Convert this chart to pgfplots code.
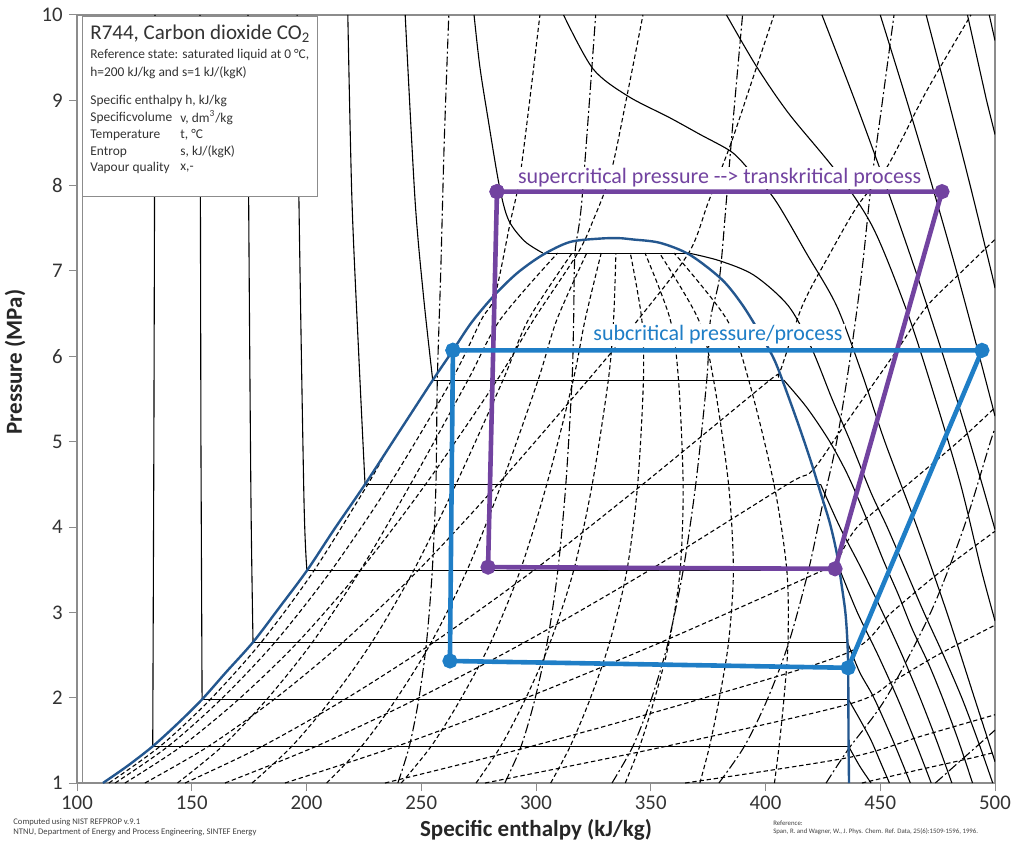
\documentclass[border=0pt]{standalone}
\usepackage{fontspec}
\setmainfont{Carlito}
\usepackage{pgfplots}
\pgfplotsset{compat=1.18}
\definecolor{dome}{HTML}{24578F}
\definecolor{cycblue}{HTML}{1F7EC6}
\definecolor{cycpurp}{HTML}{7243A0}
\definecolor{axgray}{HTML}{8C8C8C}
\newcommand\boxsmall{\fontsize{6.7}{8}\selectfont}
\begin{document}
\begin{tikzpicture}
\begin{axis}[
  scale only axis, width=459pt, height=384pt,
  xmin=100, xmax=500, ymin=1, ymax=10,
  xtick={100,150,...,500}, ytick={1,2,...,10},
  xtick pos=bottom, ytick pos=left,
  tick align=outside, major tick length=4pt,
  tick style={axgray, line width=0.5pt},
  axis line style={axgray, line width=0.6pt},
  clip mode=individual,
  /pgf/number format/assume math mode=true,
  ticklabel style={font=\fontsize{10.4}{12}\selectfont, text=black!80},
  xticklabel style={anchor=center, yshift=-6pt},
  yticklabel style={anchor=east, inner sep=0pt, xshift=-3pt},
  xlabel={Specific enthalpy (kJ/kg)},
  ylabel={Pressure (MPa)},
  xlabel style={font=\bfseries\fontsize{11.5}{13}\selectfont, text=black!85, at={(axis description cs:0.5,-0.0612)}, anchor=center},
  ylabel style={font=\bfseries\fontsize{11.5}{13}\selectfont, text=black!85, at={(axis description cs:-0.0675,0.548)}, anchor=center},
  isoT/.style={black, line width=0.55pt},
  isoV/.style={black, line width=0.55pt, dash pattern=on 2.2pt off 1.4pt},
  isoQ/.style={black, line width=0.55pt, dash pattern=on 2.2pt off 1.4pt},
  isoS/.style={black, line width=0.55pt, dash pattern=on 5pt off 1.5pt on 1pt off 1.5pt},
]
% ---------- isotherms: liquid parts ----------
\addplot[isoT] coordinates {(134,10)(133.5,5)(133,1.43)};
\addplot[isoT] coordinates {(153.6,10)(154,5)(154.5,1.98)};
\addplot[isoT,smooth] coordinates {(174.5,10)(174.8,7.83)(175.8,4.32)(176.7,2.65)};
\addplot[isoT,smooth] coordinates {(195.9,10)(196.7,7.83)(198.9,4.32)(200.2,3.49)};
\addplot[isoT,smooth] coordinates {(218,10)(219.8,7.83)(222.8,6)(225.5,4.5)};
\addplot[isoT,smooth] coordinates {(243,10)(247.3,7.83)(251,6.7)(255,5.72)};
\addplot[isoT,smooth] coordinates {(273,10)(275.5,9.4)(279,8.8)(284,8)(288,7.6)(295,7.35)(303,7.21)};
% ---------- isotherms: two-phase ----------
\addplot[isoT] coordinates {(133,1.43)(436.2,1.43)};
\addplot[isoT] coordinates {(154.5,1.98)(436.1,1.98)};
\addplot[isoT] coordinates {(176.7,2.65)(435.7,2.65)};
\addplot[isoT] coordinates {(200.2,3.49)(432.5,3.49)};
\addplot[isoT] coordinates {(225.5,4.5)(424,4.5)};
\addplot[isoT] coordinates {(255,5.72)(408,5.72)};
\addplot[isoT] coordinates {(303,7.21)(366.5,7.21)};
% ---------- isotherms: vapour / supercritical ----------
\addplot[isoT,smooth] coordinates {(436.2,1.43)(441,1.2)(446,1.0)};
\addplot[isoT,smooth] coordinates {(436.1,1.98)(441,1.75)(446,1.5)(450,1.25)(454,1.0)};
\addplot[isoT,smooth] coordinates {(435.7,2.65)(441,2.3)(447.2,2.0)(455.5,1.5)(463.1,1.0)};
\addplot[isoT,smooth] coordinates {(432.5,3.49)(440,3.0)(449,2.5)(457.4,2.0)(465,1.5)(472.2,1.0)};
\addplot[isoT,smooth] coordinates {(424,4.5)(432.4,4.0)(442,3.5)(451,3.0)(459.5,2.5)(467.3,2.0)(474.5,1.5)(481.2,1.0)};
\addplot[isoT,smooth] coordinates {(408,5.72)(418,5.4)(428,5.0)(436,4.6)(444,4.1)(451.5,3.6)(458,3.2)(464,2.8)(471,2.4)(477.1,2.0)(484,1.5)(490.2,1.0)};
\addplot[isoT,smooth] coordinates {(366.5,7.21)(380,7.12)(395,6.95)(410,6.59)(420,6.1)(429,5.5)(437,5.0)(446,4.4)(453,4.0)(461,3.5)(469,3.0)(477.5,2.5)(485.5,2.0)(492.5,1.5)(499,1.0)};
\addplot[isoT,smooth] coordinates {(312,10)(324.8,9.37)(340,9.05)(358,8.8)(371.5,8.6)(385,8.4)(392.4,8.2)(404,7.84)(418,7.2)(431,6.59)(442,5.8)(452,5.0)(466,4.0)(479,3.0)(491,2.0)(500,1.25)};
\addplot[isoT,smooth] coordinates {(383,10)(396,9.4)(410,8.85)(431,8.16)(447,7.5)(462,6.5)(474,5.5)(485,4.5)(494,3.5)(500,2.9)};
\addplot[isoT,smooth] coordinates {(424.6,10)(438.9,9)(452.5,8)(465.4,7)(477.5,6)(489,5)(500,3.97)};
\addplot[isoT,smooth] coordinates {(450,10)(461.5,9)(472.6,8)(483.2,7)(493.2,6)(500,5.3)};
\addplot[isoT,smooth] coordinates {(470,10)(479.7,9)(489.2,8)(498.3,7)(500,6.8)};
\addplot[isoT] coordinates {(488,10)(496.3,9)(500,8.6)};
\addplot[isoT] coordinates {(497.5,10)(500,9.7)};
% ---------- isochores ----------
\addplot[isoV,smooth] coordinates {(113.9,1)(136.2,1.43)(158.1,1.98)(180.3,2.65)(203.3,3.49)(226.7,4.5)(234.2,4.86)};
\addplot[isoV,smooth] coordinates {(116.6,1)(139.7,1.43)(162.7,1.98)(186.3,2.65)(210.8,3.49)(236.2,4.5)(263.2,5.72)(276.2,6.43)(282,6.7)(288.7,7.56)(293.5,8.2)(301.7,10)};
\addplot[isoV,smooth] coordinates {(120.9,1)(145.5,1.43)(170.4,1.98)(196.2,2.65)(223.4,3.49)(251.9,4.5)(283,5.72)(299,6.43)(318.2,7.21)(325,7.6)(332.7,8.16)(340,9.1)(346.6,10)};
\addplot[isoV,smooth] coordinates {(129.6,1)(157.3,1.43)(185.9,1.98)(215.9,2.65)(248.6,3.49)(283.4,4.5)(322.6,5.72)(344.5,6.43)(366.5,7.21)(375,7.8)(385,8.5)(395,9.3)(403.7,10)};
\addplot[isoV,smooth] coordinates {(147.1,1)(180.7,1.43)(216.7,1.98)(255.5,2.65)(298.9,3.49)(346.5,4.5)(401.8,5.72)(406,5.8)(416,6.59)(428,7.2)(440,7.76)(453,8.22)(470,9.1)(489.5,10)};
\addplot[isoV,smooth] coordinates {(164.5,1)(204.2,1.43)(247.6,1.98)(295.1,2.65)(349.2,3.49)(409.5,4.5)(420,4.65)(432,5.1)(445,5.6)(458,6.1)(470.4,6.59)(485,6.98)(500,7.37)};
\addplot[isoV,smooth] coordinates {(190.6,1)(239.3,1.43)(294,1.98)(354.5,2.65)(424.8,3.49)(431,3.6)(440,4)(462,4.5)(484,5)(500,5.4)};
\addplot[isoV,smooth] coordinates {(234.2,1)(298,1.43)(371.1,1.98)(436,2.53)(455,3)(475,3.45)(500,3.95)};
\addplot[isoV,smooth] coordinates {(277.8,1)(356.6,1.43)(437,1.93)(456,2.2)(475,2.5)(500,2.85)};
\addplot[isoV,smooth] coordinates {(365,1)(436.5,1.3)(468,1.55)(500,1.8)};
\addplot[isoV] coordinates {(442,1)(466,1.15)(491,1.3)(500,1.36)};
% ---------- vapour quality ----------
\addplot[isoQ,smooth] coordinates {(143.8,1)(163.3,1.43)(182.7,1.98)(202.6,2.65)(223.4,3.49)(245.3,4.5)(270.3,5.72)(284.4,6.43)(309.4,7.21)};
\addplot[isoQ,smooth] coordinates {(176.3,1)(193.6,1.43)(210.8,1.98)(228.5,2.65)(246.7,3.49)(265.1,4.5)(285.6,5.72)(296.7,6.43)(315.7,7.21)};
\addplot[isoQ,smooth] coordinates {(208.8,1)(224.0,1.43)(239.0,1.98)(254.4,2.65)(269.9,3.49)(284.9,4.5)(300.9,5.72)(309.1,6.43)(322.1,7.21)};
\addplot[isoQ,smooth] coordinates {(241.3,1)(254.3,1.43)(267.1,1.98)(280.3,2.65)(293.1,3.49)(304.7,4.5)(316.2,5.72)(321.4,6.43)(328.4,7.21)};
\addplot[isoQ,smooth] coordinates {(273.9,1)(284.6,1.43)(295.3,1.98)(306.2,2.65)(316.4,3.49)(324.5,4.5)(331.5,5.72)(333.8,6.43)(334.8,7.21)};
\addplot[isoQ,smooth] coordinates {(306.4,1)(314.9,1.43)(323.5,1.98)(332.1,2.65)(339.6,3.49)(344.3,4.5)(346.8,5.72)(346.1,6.43)(341.1,7.21)};
\addplot[isoQ,smooth] coordinates {(338.9,1)(345.2,1.43)(351.6,1.98)(358.0,2.65)(362.8,3.49)(364.1,4.5)(362.1,5.72)(358.5,6.43)(347.5,7.21)};
\addplot[isoQ,smooth] coordinates {(371.4,1)(375.6,1.43)(379.8,1.98)(383.9,2.65)(386.0,3.49)(383.9,4.5)(377.4,5.72)(370.8,6.43)(353.8,7.21)};
\addplot[isoQ,smooth] coordinates {(403.9,1)(405.9,1.43)(408.0,1.98)(409.8,2.65)(409.3,3.49)(403.7,4.5)(392.7,5.72)(383.2,6.43)(360.2,7.21)};
% ---------- isentropes ----------
\addplot[isoS,smooth] coordinates {(239.8,1)(244.8,1.43)(248.9,1.98)(252.3,2.65)(254.8,3.49)(256.4,4.5)(257,5.72)(258.5,7)(260,8.5)(262,10)};
\addplot[isoS,smooth] coordinates {(286.4,1)(293.5,1.43)(299.5,1.98)(304.9,2.65)(309.5,3.49)(313,4.5)(315.7,5.72)(316.4,6.43)(317,7.21)(320,7.83)(326,10)};
\addplot[isoS,smooth] coordinates {(333.1,1)(342.2,1.43)(350.2,1.98)(357.6,2.65)(364.1,3.49)(369.6,4.5)(374.4,5.72)(376,6.43)(380,6.93)(383,7.84)(386,8.8)(390,10)};
\addplot[isoS,smooth] coordinates {(379.7,1)(390.8,1.43)(400.8,1.98)(410.2,2.65)(418.7,3.49)(425,4.28)(431,5)(437,6)(442,7)(446,8)(451,9)(456,10)};
\addplot[isoS,smooth] coordinates {(426.4,1)(436.2,1.4)(452.6,2)(472,3)(486.5,4)(498,5)(500,5.15)};
\addplot[isoS] coordinates {(474,1)(495,1.5)(500,1.62)};
% ---------- saturation dome ----------
\addplot[dome, line width=1.2pt, smooth, tension=0.5] coordinates {(111.3,1)(122,1.2)(133,1.43)(144,1.7)(154.5,1.98)(165,2.3)(176.7,2.65)(188,3.05)(200.2,3.49)(212,3.97)(225.5,4.5)(240,5.1)(255,5.72)(263.8,6.07)(272,6.40)(282,6.72)(292,6.98)(303,7.19)(314.8,7.34)(328,7.38)(336,7.385)(342,7.37)(354,7.33)(367,7.19)(381,6.9)(390,6.6)(398,6.25)(404,5.95)(409,5.6)(415,5.15)(420,4.75)(424,4.4)(428,4.05)(431,3.7)(433,3.35)(434.8,3.0)(435.7,2.65)(436,2.35)(436.1,1.98)(436.2,1.43)(436.4,1.0)};
% ---------- info box ----------
\addplot[draw=axgray, fill=white, line width=0.5pt] coordinates {(102.2,7.868)(205,7.868)(205,9.977)(102.2,9.977)} \closedcycle;
% ---------- processes ----------
\addplot[cycpurp, line width=2.3pt, mark=*, mark size=2.6pt, mark options={solid, fill=cycpurp}] coordinates {(283,7.93)(476.9,7.93)(430.3,3.51)(279.1,3.53)(283,7.93)};
\addplot[cycblue, line width=2.3pt, mark=*, mark size=2.6pt, mark options={solid, fill=cycblue}] coordinates {(263.8,6.07)(494.3,6.07)(436,2.35)(262.5,2.43)(263.8,6.07)};
% ---------- texts ----------
\node[fill=white, inner sep=1pt, text=cycpurp, font=\fontsize{11}{13}\selectfont] at (axis cs:380,8.09) {supercritical pressure -\kern0pt-\kern0pt> transkritical process};
\node[fill=white, inner sep=1pt, text=cycblue, font=\fontsize{11}{13}\selectfont] at (axis cs:379.3,6.25) {subcritical pressure/process};
\node[anchor=west, inner sep=0pt, text=black!80, font=\fontsize{10.5}{12}\selectfont] at (axis description cs:0.01416,0.9753) {R744, Carbon dioxide CO\textsubscript{2}};
\node[anchor=west, inner sep=0pt, text=black!80, font=\boxsmall] at (axis description cs:0.01416,0.9479) {Reference state: saturated liquid at 0 °C,};
\node[anchor=west, inner sep=0pt, text=black!80, font=\boxsmall] at (axis description cs:0.01416,0.9245) {h=200 kJ/kg and s=1 kJ/(kgK)};
\node[anchor=west, inner sep=0pt, text=black!80, font=\boxsmall] at (axis description cs:0.01416,0.888) {Specific enthalpy h, kJ/kg};
\node[anchor=west, inner sep=0pt, text=black!80, font=\boxsmall] at (axis description cs:0.01416,0.8659) {Specificvolume};
\node[anchor=west, inner sep=0pt, text=black!80, font=\boxsmall] at (axis description cs:0.1122,0.8659) {v, dm\textsuperscript{3}/kg};
\node[anchor=west, inner sep=0pt, text=black!80, font=\boxsmall] at (axis description cs:0.01416,0.8438) {Temperature};
\node[anchor=west, inner sep=0pt, text=black!80, font=\boxsmall] at (axis description cs:0.1122,0.8438) {t, °C};
\node[anchor=west, inner sep=0pt, text=black!80, font=\boxsmall] at (axis description cs:0.01416,0.8216) {Entrop};
\node[anchor=west, inner sep=0pt, text=black!80, font=\boxsmall] at (axis description cs:0.1122,0.8216) {s, kJ/(kgK)};
\node[anchor=west, inner sep=0pt, text=black!80, font=\boxsmall] at (axis description cs:0.01416,0.8008) {Vapour quality};
\node[anchor=west, inner sep=0pt, text=black!80, font=\boxsmall] at (axis description cs:0.1122,0.8008) {x,-};
\node[anchor=west, inner sep=0pt, text=black!75, font=\fontsize{4.3}{5}\selectfont] at (axis description cs:-0.0697,-0.0508) {Computed using NIST REFPROP v.9.1};
\node[anchor=west, inner sep=0pt, text=black!75, font=\fontsize{4.3}{5}\selectfont] at (axis description cs:-0.0697,-0.0638) {NTNU, Department of Energy and Process Engineering, SINTEF Energy};
\node[anchor=west, inner sep=0pt, text=black!75, font=\fontsize{3.4}{4}\selectfont] at (axis description cs:0.758,-0.052) {Reference:};
\node[anchor=west, inner sep=0pt, text=black!75, font=\fontsize{3.4}{4}\selectfont] at (axis description cs:0.758,-0.0638) {Span, R. and Wagner, W., J. Phys. Chem. Ref. Data, 25(6):1509-1596, 1996.};
\end{axis}
\pgfresetboundingbox
\path[use as bounding box] ([shift={(-38.5pt,-31pt)}]current axis.south west) rectangle ([shift={(12pt,7.5pt)}]current axis.north east);
\end{tikzpicture}
\end{document}
